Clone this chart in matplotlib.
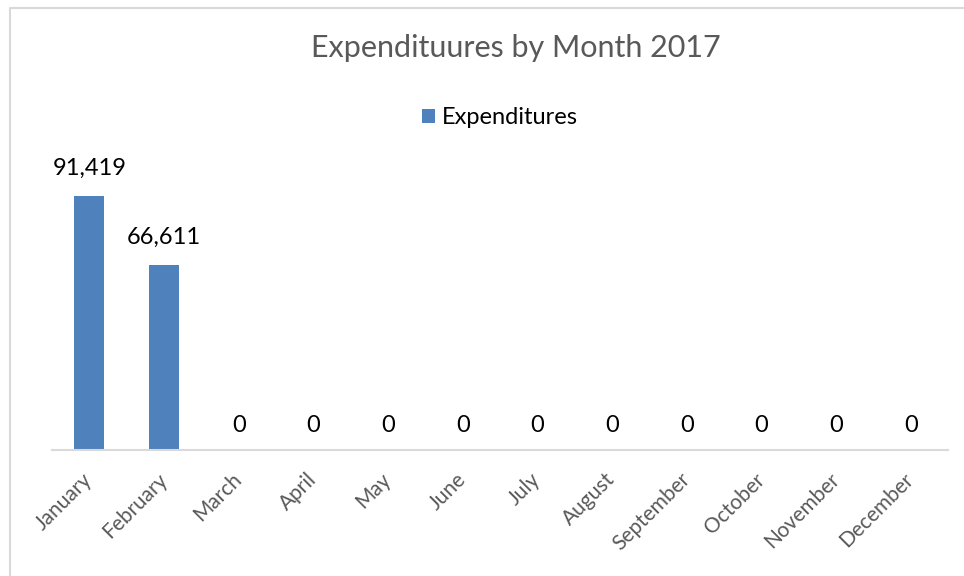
import matplotlib.pyplot as plt
from matplotlib.lines import Line2D

months = ["January", "February", "March", "April", "May", "June", "July",
          "August", "September", "October", "November", "December"]
expenditures = [91419, 66611, 0, 0, 0, 0, 0, 0, 0, 0, 0, 0]

plt.rcParams["font.family"] = ["Lato", "DejaVu Sans"]

fig = plt.figure(figsize=(9.64, 5.76), dpi=100)
ax = fig.add_axes([52 / 964, 126 / 576, 896 / 964, 278 / 576])

bar_color = "#4F81BD"
bars = ax.bar(range(len(months)), expenditures, width=0.4, color=bar_color,
              label="Expenditures")

for b, v in zip(bars, expenditures):
    off = 12 if v > 0 else 10
    ax.annotate(f"{v:,}", (b.get_x() + b.get_width() / 2, v),
                xytext=(0, off), textcoords="offset points",
                ha="center", va="bottom", fontsize=17, color="black")

ax.set_xlim(-0.5, len(months) - 0.5)
ax.set_ylim(0, 100000)
ax.set_yticks([])
for s in ["top", "right", "left"]:
    ax.spines[s].set_visible(False)
ax.spines["bottom"].set_color("#D9D9D9")
ax.spines["bottom"].set_linewidth(1.5)

ax.set_xticks(range(len(months)))
ax.set_xticklabels(months, rotation=45, ha="right", va="center",
                   rotation_mode="anchor", fontsize=15, color="#595959")
ax.tick_params(axis="x", length=0, pad=19)

fig.text(516 / 964, 1 - 48 / 576, "Expendituures by Month 2017", ha="center",
         va="center", fontsize=22, color="#595959")

fig.legend(loc="center", bbox_to_anchor=(500 / 964, 1 - 118 / 576), frameon=False,
           fontsize=17, handlelength=0.55, handleheight=0.55, handletextpad=0.3)

# chart area border (top and left edges visible in the crop)
fig.add_artist(Line2D([10 / 964, 10 / 964, 1.0], [0.0, 1 - 8 / 576, 1 - 8 / 576],
                      transform=fig.transFigure, color="#D9D9D9", linewidth=1.5))

fig.savefig("out.png", dpi=100)
